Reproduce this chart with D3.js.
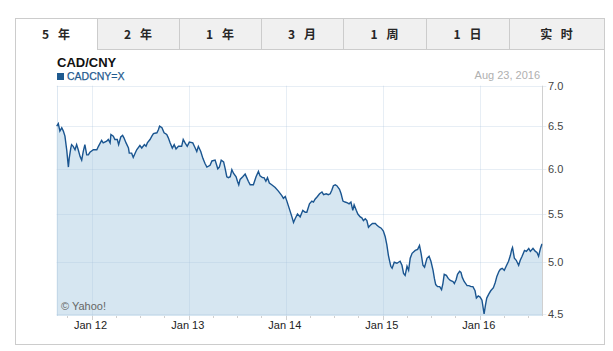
<!DOCTYPE html>
<html><head><meta charset="utf-8">
<script src="https://cdn.jsdelivr.net/npm/d3@7"></script>
<style>
html,body{margin:0;padding:0;background:#fff;}
svg{display:block;}
text{font-family:"Liberation Sans",Arial,sans-serif;}
</style></head>
<body>
<svg id="c" width="613" height="351"></svg>
<script>
const tabs = ["5 年","2 年","1 年","3 月","1 周","1 日","实 时"];
const yTicks = [4.5, 5.0, 5.5, 6.0, 6.5, 7.0];
const xTickYears = [2012, 2013, 2014, 2015, 2016];
const xTickLabels = ["Jan 12","Jan 13","Jan 14","Jan 15","Jan 16"];
const dates = [
"2011-08-23","2011-08-29","2011-09-04","2011-09-11","2011-09-17","2011-09-23","2011-09-30","2011-10-04","2011-10-06","2011-10-09","2011-10-15","2011-10-18","2011-10-24","2011-10-31","2011-11-06","2011-11-12","2011-11-19","2011-11-25","2011-12-01","2011-12-07","2011-12-14","2011-12-20","2011-12-26",
"2012-01-08","2012-01-21","2012-01-27","2012-02-08","2012-02-14","2012-02-27","2012-03-04","2012-03-11","2012-03-14","2012-03-23","2012-03-29","2012-04-07","2012-04-12","2012-04-20","2012-04-27","2012-05-02","2012-05-10","2012-05-19","2012-05-22","2012-05-31","2012-06-06","2012-06-13","2012-06-19","2012-07-01","2012-07-08","2012-07-18","2012-07-24","2012-07-29","2012-08-08","2012-08-15","2012-08-21","2012-09-03","2012-09-09","2012-09-13","2012-09-22","2012-09-30","2012-10-10","2012-10-16","2012-10-23","2012-10-31","2012-11-07","2012-11-14","2012-11-23","2012-12-05","2012-12-11","2012-12-18","2012-12-26",
"2013-01-03","2013-01-16","2013-01-25","2013-01-31","2013-02-06","2013-02-15","2013-02-23","2013-03-03","2013-03-10","2013-03-22","2013-03-29","2013-04-10","2013-04-16","2013-04-20","2013-04-26","2013-05-03","2013-05-12","2013-05-18","2013-05-24","2013-05-30","2013-06-06","2013-06-12","2013-06-18","2013-06-28","2013-07-03","2013-07-08","2013-07-13","2013-07-23","2013-08-01","2013-08-07","2013-08-13","2013-08-20","2013-09-01","2013-09-11","2013-09-20","2013-09-26","2013-10-05","2013-10-11","2013-10-18","2013-10-24","2013-10-31","2013-11-09","2013-11-22","2013-12-04","2013-12-17","2013-12-23","2013-12-30",
"2014-01-05","2014-01-15","2014-01-24","2014-01-30","2014-02-05","2014-02-14","2014-02-24","2014-03-06","2014-03-15","2014-03-21","2014-03-31","2014-04-09","2014-04-15","2014-04-21","2014-04-30","2014-05-08","2014-05-17","2014-05-23","2014-06-02","2014-06-10","2014-06-17","2014-06-23","2014-06-29","2014-07-06","2014-07-12","2014-07-22","2014-07-28","2014-08-04","2014-08-12","2014-08-21","2014-08-27","2014-09-03","2014-09-10","2014-09-15","2014-09-23","2014-09-29","2014-10-08","2014-10-14","2014-10-20","2014-10-27","2014-11-02","2014-11-08","2014-11-15","2014-11-23","2014-12-04","2014-12-10","2014-12-19","2014-12-26",
"2015-01-03","2015-01-10","2015-01-16","2015-01-22","2015-01-26","2015-01-31","2015-02-05","2015-02-13","2015-02-23","2015-03-07","2015-03-14","2015-03-20","2015-03-26","2015-04-02","2015-04-08","2015-04-14","2015-04-21","2015-05-03","2015-05-12","2015-05-19","2015-05-25","2015-06-01","2015-06-07","2015-06-16","2015-06-24","2015-07-01","2015-07-09","2015-07-14","2015-07-19","2015-07-26","2015-08-03","2015-08-10","2015-08-15","2015-08-20","2015-08-28","2015-09-04","2015-09-12","2015-09-22","2015-09-27","2015-10-04","2015-10-09","2015-10-17","2015-10-22","2015-10-27","2015-11-03","2015-11-14","2015-11-21","2015-11-29","2015-12-06","2015-12-14","2015-12-19","2015-12-26",
"2016-01-02","2016-01-09","2016-01-12","2016-01-17","2016-01-22","2016-01-27","2016-02-04","2016-02-11","2016-02-21","2016-02-28","2016-03-05","2016-03-13","2016-03-18","2016-03-25","2016-04-02","2016-04-09","2016-04-18","2016-04-25","2016-04-30","2016-05-03","2016-05-10","2016-05-17","2016-05-26","2016-06-01","2016-06-08","2016-06-17","2016-06-24","2016-07-03","2016-07-09","2016-07-19","2016-07-28","2016-08-03","2016-08-09","2016-08-16","2016-08-21","2016-08-23"
];
const rates = [
6.50,6.53,6.44,6.48,6.44,6.38,6.21,6.08,6.02,6.12,6.24,6.28,6.26,6.22,6.28,6.22,6.14,6.10,6.20,6.28,6.16,6.16,6.19,
6.22,6.22,6.26,6.33,6.30,6.32,6.34,6.30,6.40,6.38,6.34,6.34,6.28,6.37,6.39,6.36,6.30,6.24,6.18,6.18,6.13,6.18,6.22,6.27,6.24,6.28,6.26,6.30,6.34,6.38,6.41,6.42,6.46,6.50,6.48,6.42,6.40,6.36,6.30,6.24,6.28,6.23,6.26,6.26,6.34,6.30,6.26,
6.31,6.30,6.24,6.20,6.26,6.20,6.12,6.06,6.02,6.04,6.09,6.10,6.04,6.00,6.02,6.10,6.08,6.00,5.91,5.90,5.91,5.99,5.95,5.91,5.86,5.82,5.88,5.91,5.94,5.90,5.86,5.82,5.82,5.91,5.97,5.92,5.90,5.90,5.86,5.90,5.84,5.82,5.79,5.75,5.70,5.67,5.69,
5.64,5.55,5.47,5.41,5.45,5.50,5.47,5.54,5.52,5.52,5.61,5.64,5.63,5.66,5.69,5.72,5.74,5.71,5.72,5.71,5.72,5.76,5.81,5.82,5.81,5.77,5.72,5.64,5.63,5.62,5.61,5.63,5.54,5.60,5.54,5.50,5.47,5.46,5.43,5.45,5.43,5.36,5.38,5.40,5.40,5.38,5.36,5.35,
5.32,5.26,5.18,5.07,5.02,4.96,4.94,5.00,4.99,5.01,4.97,4.89,4.87,4.96,4.92,5.04,5.09,5.12,5.13,5.17,5.09,4.97,4.95,5.04,5.06,5.01,4.92,4.84,4.78,4.76,4.76,4.73,4.79,4.88,4.87,4.84,4.82,4.81,4.79,4.83,4.88,4.91,4.90,4.85,4.81,4.77,4.77,4.76,4.76,4.72,4.65,4.67,
4.66,4.63,4.58,4.50,4.58,4.65,4.69,4.72,4.75,4.80,4.86,4.91,4.93,4.94,4.92,4.96,5.01,5.07,5.13,5.15,5.04,5.02,4.97,5.02,5.06,5.12,5.11,5.14,5.11,5.14,5.11,5.10,5.06,5.14,5.18,5.18
];

const parse = d3.timeParse("%Y-%m-%d");
const data = dates.map((d,i)=>({date:parse(d), v:rates[i]}));

const svg = d3.select("#c");
const frame = {l:15, t:18, r:604, b:344, tabB:49};
const tabEdges = [15, 97, 179, 261, 343, 426, 509, 604];

// frame
svg.append("rect").attr("x",frame.l+0.5).attr("y",frame.t+0.5)
  .attr("width",frame.r-frame.l).attr("height",frame.b-frame.t)
  .attr("fill","#fff").attr("stroke","#cccccc");

// tabs
tabs.forEach((t,i)=>{
  const x0 = tabEdges[i], x1 = tabEdges[i+1];
  if(i>0){
    svg.append("rect").attr("x",x0+0.5).attr("y",frame.t+0.5)
      .attr("width",x1-x0).attr("height",frame.tabB-frame.t)
      .attr("fill","#f0f0f0").attr("stroke","#cccccc");
  }
  svg.append("text").attr("x",(x0+x1)/2+1.5).attr("y",39)
    .attr("text-anchor","middle")
    .style("font-family",'"Noto Sans CJK SC",sans-serif')
    .style("font-size","12px").style("font-weight","bold")
    .style("letter-spacing","3px")
    .attr("fill","#262626").text(t);
});
svg.append("line").attr("x1",frame.r+0.5).attr("x2",frame.r+0.5).attr("y1",frame.t).attr("y2",frame.b+1).attr("stroke","#ccc");

// scales
const plot = {l:56.7, r:542.3, t:85.7, b:316};
const x = d3.scaleTime().domain([parse("2011-08-23"), parse("2016-08-23")]).range([plot.l, plot.r]);
const y = d3.scalePow().exponent(0.3).domain([4.5, 7.0]).range([314, 85.7]);

// area
const area = d3.area().x(d=>x(d.date)).y0(plot.b).y1(d=>y(d.v));
svg.append("path").datum(data).attr("d",area).attr("fill","#d6e6f1");

// grid
const g = svg.append("g");
const gridCol = "rgb(170,195,220)", gridOp = 0.28;
yTicks.forEach(t=>{
  g.append("line").attr("x1",plot.l).attr("x2",plot.r+4)
    .attr("y1",Math.round(y(t))+0.5).attr("y2",Math.round(y(t))+0.5)
    .attr("stroke",gridCol).attr("stroke-opacity",gridOp);
});
xTickYears.forEach(yr=>{
  const xx = Math.round(x(new Date(yr,0,1)))+0.5;
  g.append("line").attr("x1",xx).attr("x2",xx).attr("y1",plot.t).attr("y2",plot.b)
    .attr("stroke",gridCol).attr("stroke-opacity",gridOp);
});
g.append("line").attr("x1",Math.round(plot.l)+0.5).attr("x2",Math.round(plot.l)+0.5).attr("y1",plot.t).attr("y2",plot.b)
  .attr("stroke",gridCol).attr("stroke-opacity",0.4);
g.append("line").attr("x1",Math.round(plot.r)+0.5).attr("x2",Math.round(plot.r)+0.5).attr("y1",plot.t).attr("y2",plot.b)
  .attr("stroke","#d0d0d0");

// line
const line = d3.line().x(d=>x(d.date)).y(d=>y(d.v));
svg.append("path").datum(data).attr("d",line).attr("fill","none")
  .attr("stroke","#1a5590").attr("stroke-width",1.4).attr("stroke-linejoin","miter");

// y axis labels
yTicks.forEach(t=>{
  svg.append("text").attr("x",548).attr("y",y(t)+4)
    .style("font-size","11px").attr("fill","#444").text(d3.format(".1f")(t));
});

// x axis ticks
const quarters = d3.timeMonth.every(3).range(parse("2011-08-23"), parse("2016-08-24"));
quarters.forEach(q=>{
  const xx = Math.round(x(q))+0.5;
  const major = q.getMonth()===0;
  svg.append("line").attr("x1",xx).attr("x2",xx).attr("y1",plot.b).attr("y2",plot.b+(major?4:2))
    .attr("stroke","#d0d0d0");
});
xTickYears.forEach((yr,i)=>{
  svg.append("text").attr("x",x(new Date(yr,0,1))-1).attr("y",329)
    .attr("text-anchor","middle").style("font-size","11px").attr("fill","#222")
    .text(xTickLabels[i]);
});

// titles
svg.append("text").attr("x",57).attr("y",67).style("font-size","13px").style("font-weight","bold")
  .attr("fill","#111").text("CAD/CNY");
svg.append("rect").attr("x",57).attr("y",73).attr("width",7).attr("height",7).attr("fill","#1f5a8f");
svg.append("text").attr("x",67).attr("y",80).style("font-size","10.5px")
  .attr("fill","#1f5a8f").attr("stroke","#1f5a8f").attr("stroke-width",0.25).text("CADCNY=X");
svg.append("text").attr("x",540).attr("y",79).attr("text-anchor","end").style("font-size","11px")
  .attr("fill","#b0b0b0").text("Aug 23, 2016");
svg.append("text").attr("x",61).attr("y",310).style("font-size","11px")
  .attr("fill","#666").text("© Yahoo!");
</script>
</body></html>
